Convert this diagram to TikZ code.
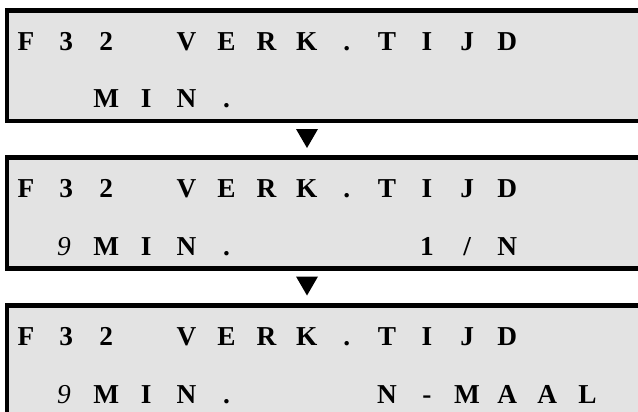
\documentclass[tikz,border=0pt]{standalone}
\usepackage{fontspec}
\setmainfont{Liberation Serif}
\definecolor{lcdgray}{RGB}{227,227,227}
\tikzset{
  lcdbox/.style={draw=black, line width=3.4pt, fill=lcdgray, inner sep=0pt,
    minimum width=489.6pt, minimum height=82.9pt},
  ch/.style={anchor=base, inner sep=0pt, font=\fontsize{20.5pt}{24pt}\selectfont\bfseries},
  chi/.style={anchor=base, inner sep=0pt, font=\fontsize{20.5pt}{24pt}\selectfont\itshape},
  tri/.style={fill=black}
}
\begin{document}
\begin{tikzpicture}[x=0.75pt,y=-0.75pt]
\useasboundingbox (0,0) rectangle (638,411);
\clip (0,0) rectangle (638,411);
\fill[white] (0,0) rectangle (638,411);
% boxes
\node[lcdbox] (box1) at (333.6,65.5) {};
\node[lcdbox] (box2) at (333.6,213) {};
\node[lcdbox] (box3) at (333.6,360.5) {};
% first lines
\foreach \b/\y in {1/50,2/197.5,3/345}{
  \foreach \c/\t in {0/F,1/3,2/2,4/V,5/E,6/R,7/K,8/.,9/T,10/I,11/J,12/D}{
    \node[ch] (b\b r1c\c) at ({26+40.1*\c},\y) {\t};
  }
}
% second lines: M I N .
\foreach \b/\y in {1/107,2/255,3/403}{
  \foreach \c/\t in {2/M,3/I,4/N,5/.}{
    \node[ch] (b\b r2c\c) at ({26+40.1*\c},\y) {\t};
  }
}
\node[chi] (b2nine) at (64,255) {9};
\node[chi] (b3nine) at (64,403) {9};
\node[ch] (b2r2c10) at ({26+40.1*10},255) {1};
\node[ch] (b2r2c11) at ({26+40.1*11},255) {/};
\node[ch] (b2r2c12) at ({26+40.1*12},255) {N};
\foreach \c/\t in {9/N,10/-,11/M,12/A,13/A,14/L}{
  \node[ch] (b3r2c\c) at ({26+40.1*\c},403) {\t};
}
% arrows
\coordinate (t1) at (307,129);
\coordinate (t2) at (307,276.5);
\fill[tri] (t1) ++(-11,0) -- ++(22,0) -- ++(-11,19) -- cycle;
\fill[tri] (t2) ++(-11,0) -- ++(22,0) -- ++(-11,19) -- cycle;
\end{tikzpicture}
\end{document}
